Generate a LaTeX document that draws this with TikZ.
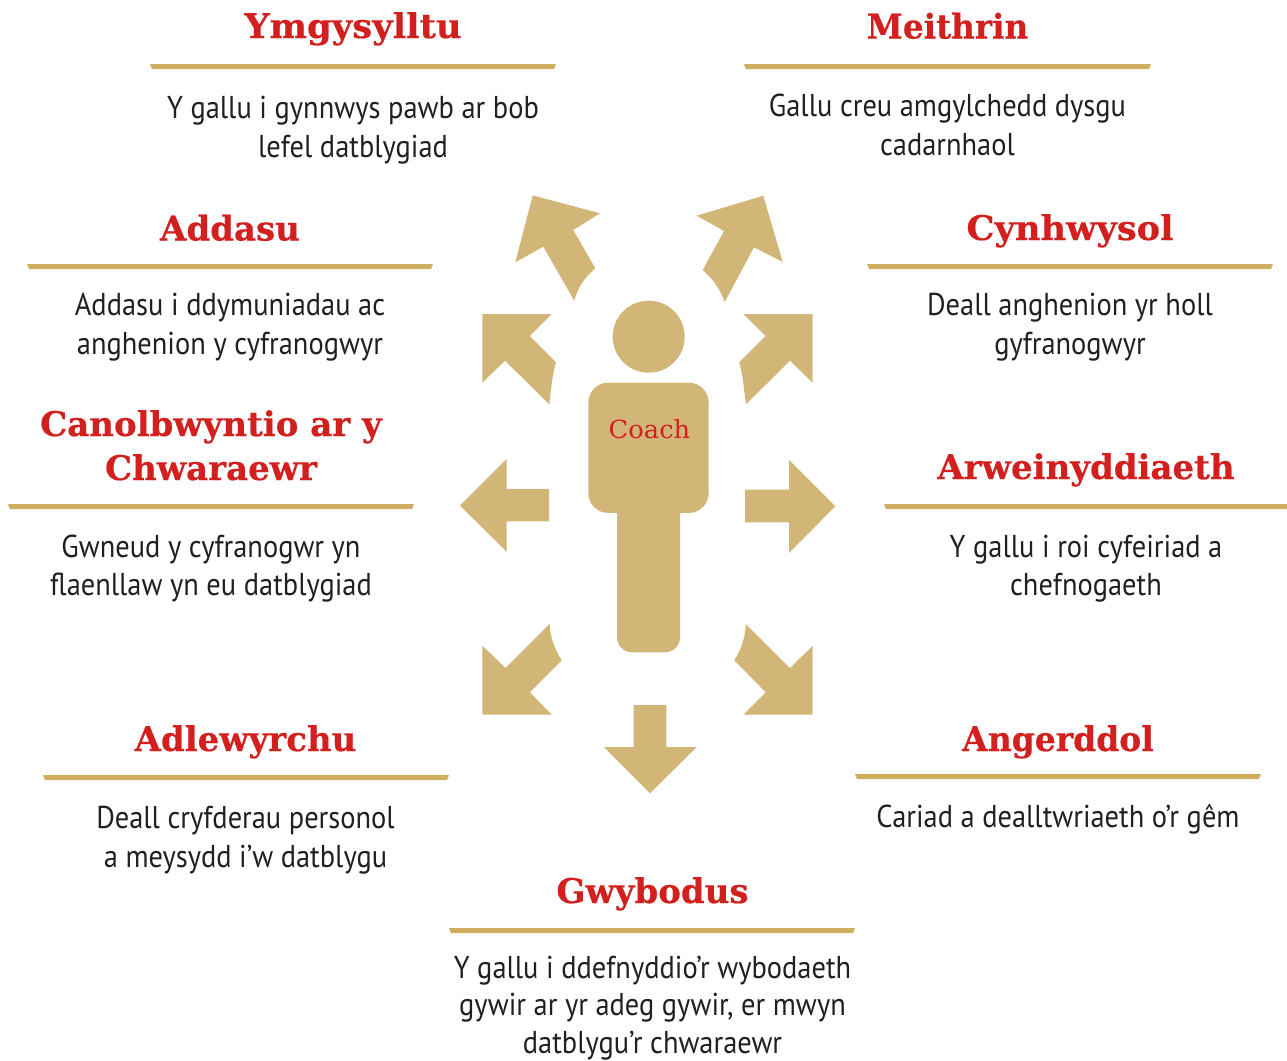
\documentclass[tikz,border=0pt]{standalone}
\usepackage{fontspec}
\usepackage{graphicx}
\setmainfont{PT Sans}[FakeStretch=0.9]
\newfontfamily\headfont{DejaVu Serif}[BoldFont={DejaVu Serif Bold},BoldFeatures={FakeBold=0.5}]
\definecolor{figgold}{HTML}{D2B678}
\definecolor{rulegold}{HTML}{CFAE5F}
\definecolor{headred}{HTML}{D2201F}
\definecolor{bodyink}{HTML}{231F20}
\tikzset{
  x=1pt,y=-1pt,
  arrowshape/.style={fill=figgold,draw=none},
  heading/.style={font=\headfont\bfseries\fontsize{34}{44}\selectfont,text=headred,align=center,inner sep=0pt,anchor=base},
  body/.style={font=\fontsize{31.6}{38.5}\selectfont,text=bodyink,align=center,inner sep=0pt,anchor=base},
}
\begin{document}
\begin{tikzpicture}
\useasboundingbox (0,0) rectangle (1287,1060);
% figure
\fill[arrowshape] (648.7,336.7) circle (36);
\node[arrowshape,rounded corners=20pt,minimum width=120.4pt,minimum height=130.3pt,inner sep=0pt] (torso) at (648.5,447.8) {};
\node[arrowshape,rounded corners=15pt,minimum width=63pt,minimum height=172pt,inner sep=0pt] (leg) at (648.5,566.3) {};
\node[font=\headfont\fontsize{25}{28}\selectfont,text=headred,inner sep=0pt,anchor=base] (coach) at (649.5,438) {\scalebox{1.03}[1]{Coach}};
% arrows
\fill[arrowshape] (532.7,195.3)--(600,213.3)--(573.3,230)--(595.3,268.3) .. controls (584,278) and (577,289) .. (574.3,300.7)--(543.3,246.7)--(515.3,262.3)--cycle;
\fill[arrowshape] (763.3,195.7)--(782.7,262)--(754,247.3)--(724.7,302) .. controls (720,289) and (713,279) .. (702.7,270)--(724,231)--(696.7,215.7)--cycle;
\fill[arrowshape] (482.3,314)--(551.7,314)--(530,336)--(556,362.3) .. controls (552,376) and (551,390) .. (549.3,404.3)--(505,360.7)--(482.3,382.7)--cycle;
\fill[arrowshape] (812.7,314)--(743.3,314)--(765.7,336)--(739.3,362.3) .. controls (743,376) and (744,390) .. (746,404.3)--(790,360.7)--(812.7,382.7)--cycle;
\fill[arrowshape] (460,505.7)--(506.7,459)--(506.7,489)--(549,489)--(549,521.3)--(506.7,521.3)--(506.7,551.7)--cycle;
\fill[arrowshape] (835.3,506.3)--(789,460)--(789,489.7)--(745,489.7)--(745,522.3)--(789,522.3)--(789,553)--cycle;
\fill[arrowshape] (482.3,714.7)--(551.7,714.7)--(530,692.3)--(561.7,660.3) .. controls (554,648) and (550,636) .. (549.7,624)--(505.7,668)--(482.3,645.7)--cycle;
\fill[arrowshape] (812.7,714.7)--(743.3,714.7)--(765.7,692.3)--(734.3,660.3) .. controls (742,648) and (745.5,636) .. (745.7,624)--(790,668)--(812.7,645.7)--cycle;
\fill[arrowshape] (633.7,705)--(666.3,705)--(666.3,747)--(696.7,747)--(650,793.3)--(604,747)--(633.7,747)--cycle;
% blocks
\node[heading] (h1) at (353,38) {\scalebox{1.04}[1]{Ymgysylltu}};
\fill[rulegold] (150,64)--(556,64)--(554,69)--(152,69)--cycle;
\node[body] (b1) at (353,157) {Y gallu i gynnwys pawb ar bob\\lefel datblygiad};
\node[heading] (h2) at (947.5,38.5) {\scalebox{0.96}[1]{Meithrin}};
\fill[rulegold] (744,64)--(1151,64)--(1149,69)--(746,69)--cycle;
\node[body] (b2) at (947.5,155) {Gallu creu amgylchedd dysgu\\cadarnhaol};
\node[heading] (h3) at (230,240.5) {Addasu};
\fill[rulegold] (27,264)--(433,264)--(431,269)--(29,269)--cycle;
\node[body] (b3) at (230,354) {Addasu i ddymuniadau ac\\anghenion y cyfranogwyr};
\node[heading] (h4) at (1070,240) {\scalebox{1.035}[1]{Cynhwysol}};
\fill[rulegold] (867,264)--(1273,264)--(1271,269)--(869,269)--cycle;
\node[body] (b4) at (1070,354) {Deall anghenion yr holl\\gyfranogwyr};
\node[heading] (h5) at (211,480) {Canolbwyntio ar y\\Chwaraewr};
\fill[rulegold] (8,504)--(414,504)--(412,509)--(10,509)--cycle;
\node[body] (b5) at (211,595.5) {Gwneud y cyfranogwr yn\\flaenllaw yn eu datblygiad};
\node[heading] (h6) at (1086,479) {Arweinyddiaeth};
\fill[rulegold] (884,504)--(1287,504)--(1287,509)--(886,509)--cycle;
\node[body] (b6) at (1086,595.5) {Y gallu i roi cyfeiriad a\\chefnogaeth};
\node[heading] (h7) at (245.5,751) {Adlewyrchu};
\fill[rulegold] (43,775)--(449,775)--(447,780)--(45,780)--cycle;
\node[body] (b7) at (245.5,867) {Deall cryfderau personol\\a meysydd i’w datblygu};
\node[heading] (h8) at (1058,751) {\scalebox{0.97}[1]{Angerddol}};
\fill[rulegold] (855,774)--(1261,774)--(1259,779)--(857,779)--cycle;
\node[body] (b8) at (1058,827) {Cariad a dealltwriaeth o’r gêm};
\node[heading] (h9) at (652.5,903) {Gwybodus};
\fill[rulegold] (449,928)--(855,928)--(853,933)--(451,933)--cycle;
\node[body,font=\fontsize{31.6}{37.5}\selectfont] (b9) at (652.5,1053) {Y gallu i ddefnyddio’r wybodaeth\\gywir ar yr adeg gywir, er mwyn\\datblygu’r chwaraewr};
\end{tikzpicture}
\end{document}
